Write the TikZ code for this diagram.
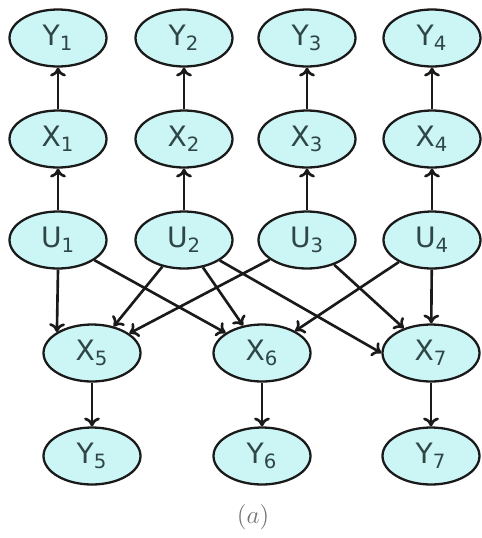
\documentclass[tikz,border=0pt]{standalone}
\usepackage{fontspec}
\setsansfont{DejaVu Sans}
\usetikzlibrary{arrows.meta,shapes.geometric}
\definecolor{cellfill}{HTML}{CCF5F5}
\definecolor{ink}{HTML}{1A1A1A}
\definecolor{labelink}{HTML}{2F4646}

\begin{document}
\begin{tikzpicture}[x=0.02cm,y=-0.02cm,font=\sffamily,>={To[length=5pt,width=9pt]},
  var/.style={ellipse,draw=ink,line width=1.3pt,fill=cellfill,
    minimum width=1.94cm,minimum height=1.14cm,inner sep=0pt,
    text=labelink,font=\sffamily\fontsize{16}{19}\selectfont},
  link/.style={->,ink,line width=1.5pt}]
 \useasboundingbox (0,0) rectangle (481,538);
 % upper part: U -> X -> Y
 \foreach \i/\x in {1/58,2/184,3/307,4/432} {
   \node[var] (Y\i) at (\x,38) {Y\textsubscript{\i}};
   \node[var] (X\i) at (\x,139) {X\textsubscript{\i}};
   \node[var] (U\i) at (\x,240) {U\textsubscript{\i}};
   \draw[link] (U\i) -- (X\i);
   \draw[link] (X\i) -- (Y\i);
 }
 % lower part: X -> Y
 \foreach \i/\x in {5/92,6/262,7/431} {
   \node[var] (X\i) at (\x,353) {X\textsubscript{\i}};
   \node[var] (Y\i) at (\x,456) {Y\textsubscript{\i}};
   \draw[link] (X\i) -- (Y\i);
 }
 \draw[link] (U1.south) -- (X5.north west);
 \draw[link] (U1) -- (X6);
 \draw[link] (U2) -- (X5);
 \draw[link] (U2) -- (X6);
 \draw[link] (U2) -- (X7.west);
 \draw[link] (U3) -- (X5);
 \draw[link] (U3) -- (X7);
 \draw[link] (U4) -- (X6);
 \draw[link] (U4) -- (X7);
 \node[text=black!55,font=\fontsize{14}{16}\selectfont] (cap) at (253,517) {$(a)$};
\end{tikzpicture}
\end{document}
